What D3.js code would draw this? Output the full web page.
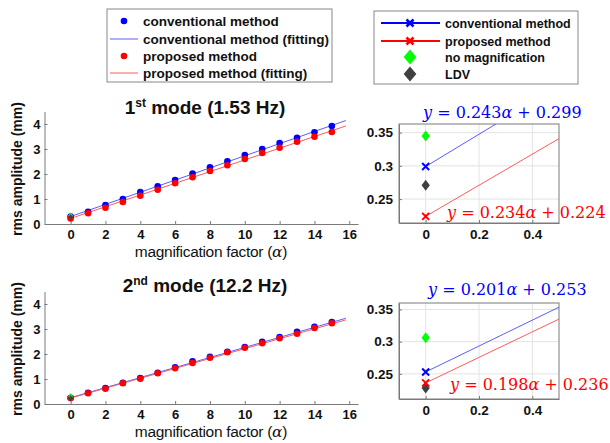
<!DOCTYPE html>
<html>
<head>
<meta charset="utf-8">
<script src="https://cdn.jsdelivr.net/npm/d3@7"></script>
<style>
  html, body { margin: 0; padding: 0; background: #fff; }
  svg { display: block; }
  .tick text { font-family: "Liberation Sans", Arial, sans-serif; font-weight: bold; fill: #111; }
</style>
</head>
<body>
<script>
// magnification factor α
const alpha = [0, 1, 2, 3, 4, 5, 6, 7, 8, 9, 10, 11, 12, 13, 14, 15];

// 1st mode (1.53 Hz): rms amplitude (mm)
const conv1 = [0.299, 0.49, 0.76, 1.00, 1.28, 1.51, 1.76, 2.02, 2.27, 2.51, 2.76, 3.00, 3.24, 3.45, 3.67, 3.92];
const prop1 = [0.224, 0.43, 0.65, 0.88, 1.13, 1.37, 1.63, 1.87, 2.12, 2.35, 2.60, 2.84, 3.05, 3.29, 3.49, 3.68];
// 2nd mode (12.2 Hz): rms amplitude (mm)
const conv2 = [0.253, 0.45, 0.64, 0.85, 1.04, 1.25, 1.47, 1.71, 1.89, 2.09, 2.28, 2.49, 2.68, 2.89, 3.09, 3.28];
const prop2 = [0.236, 0.43, 0.61, 0.83, 1.01, 1.23, 1.43, 1.64, 1.85, 2.07, 2.25, 2.43, 2.63, 2.81, 3.04, 3.23];

// linear fits [slope, intercept]
const fitConv1 = [0.243, 0.299];
const fitProp1 = [0.234, 0.224];
const fitConv2 = [0.201, 0.253];
const fitProp2 = [0.198, 0.236];
const fitRange = [0, 15.8];

// reference amplitudes at α = 0 (mode 1, mode 2)
const noMagnification = [0.345, 0.306];
const ldv = [0.271, 0.228];

// ticks
const mainXTicks = [0, 2, 4, 6, 8, 10, 12, 14, 16];
const mainYTicks = [0, 1, 2, 3, 4];
const zoomXTicks = [0, 0.2, 0.4];
const zoomYTicks = [0.25, 0.3, 0.35];

const BLUE = "#0000ff", RED = "#ff0000", FIT_BLUE = "#5c5cff", FIT_RED = "#ff5c5c";
const GREEN = "#00ff00", GRAY = "#404040", AXIS = "#7a7a7a";
const SANS = "'Liberation Sans', Arial, sans-serif";
const SERIF = "'DejaVu Serif', serif";

const svg = d3.select("body").append("svg").attr("width", 610).attr("height", 443);

// custom marker shapes
const crossShape = { draw(ctx, size) { const r = Math.sqrt(size) / 2; ctx.moveTo(-r, -r); ctx.lineTo(r, r); ctx.moveTo(r, -r); ctx.lineTo(-r, r); } };
const diamondShape = (ratio) => ({ draw(ctx, size) { const h = Math.sqrt(size) / 2, w = h * ratio; ctx.moveTo(0, -h); ctx.lineTo(w, 0); ctx.lineTo(0, h); ctx.lineTo(-w, 0); ctx.closePath(); } });

function styleAxis(g) {
  g.select(".domain").attr("stroke", AXIS).attr("stroke-width", 1);
  g.selectAll(".tick line").attr("stroke", AXIS);
  g.selectAll(".tick text").attr("font-size", 13);
}

// ---------- main panels ----------
function mainPanel(cfg) {
  const x = d3.scaleLinear().domain([-1.5, 16.5]).range([44.5, 358]);
  const y = d3.scaleLinear().domain([0, 4.5]).range([cfg.bottom, cfg.bottom - 112.5]);
  const g = svg.append("g");

  g.append("g").attr("transform", `translate(0,${cfg.bottom})`)
    .call(d3.axisBottom(x).tickValues(mainXTicks).tickFormat(d3.format("d")).tickSizeInner(-3).tickSizeOuter(0).tickPadding(6))
    .call(styleAxis);
  g.append("g").attr("transform", `translate(${x.range()[0]},0)`)
    .call(d3.axisLeft(y).tickValues(mainYTicks).tickFormat(d3.format("d")).tickSizeInner(-3).tickSizeOuter(0).tickPadding(4))
    .call(styleAxis);

  const line = d3.line().x(d => x(d[0])).y(d => y(d[1]));
  [[cfg.fitC, FIT_BLUE], [cfg.fitP, FIT_RED]].forEach(([f, c]) => {
    g.append("path").datum(fitRange.map(a => [a, f[0] * a + f[1]]))
      .attr("d", line).attr("fill", "none").attr("stroke", c).attr("stroke-width", 1);
  });
  [[cfg.conv, BLUE], [cfg.prop, RED]].forEach(([vals, c]) => {
    g.selectAll(null).data(alpha).join("circle")
      .attr("cx", d => x(d)).attr("cy", (d, i) => y(vals[i])).attr("r", 3.3).attr("fill", c);
  });
  [[cfg.noMag, GREEN], [cfg.ldv, GRAY]].forEach(([v, c]) => {
    g.append("path").attr("d", d3.symbol(diamondShape(0.8), 36)())
      .attr("transform", `translate(${x(0)},${y(v)})`).attr("fill", c);
  });

  // title
  const t = g.append("text").attr("x", 205).attr("y", cfg.titleY).attr("text-anchor", "middle")
    .attr("font-family", SANS).attr("font-weight", "bold").attr("font-size", 19).attr("fill", "#111");
  t.append("tspan").text(cfg.title[0]);
  t.append("tspan").text(cfg.title[1]).attr("font-size", 12).attr("dy", -7);
  t.append("tspan").text(cfg.title[2]).attr("dy", 7);

  // axis labels
  g.append("text").attr("transform", `translate(22,${cfg.bottom - 55}) rotate(-90)`).attr("text-anchor", "middle")
    .attr("font-family", SANS).attr("font-weight", "bold").attr("font-size", 14).attr("fill", "#111")
    .text("rms amplitude (mm)");
  const xl = g.append("text").attr("x", 211).attr("y", cfg.bottom + 33).attr("text-anchor", "middle")
    .attr("font-family", SANS).attr("font-size", 15.5).attr("fill", "#111").attr("letter-spacing", -0.3);
  xl.append("tspan").text("magnification factor (");
  xl.append("tspan").text("α").attr("font-family", SERIF).attr("font-style", "italic");
  xl.append("tspan").text(")");
}

// ---------- zoomed panels near α = 0 ----------
function zoomPanel(cfg, idx) {
  const x = d3.scaleLinear().domain([-0.1, 0.5]).range([399, 559]);
  const y = d3.scaleLinear().domain(cfg.yDomain).range([cfg.bottom, cfg.top]);
  const g = svg.append("g");
  const clipId = "clip" + idx;
  g.append("clipPath").attr("id", clipId).append("rect")
    .attr("x", 399).attr("y", cfg.top).attr("width", 160).attr("height", cfg.bottom - cfg.top);

  // grid
  g.selectAll(null).data(zoomXTicks).join("line")
    .attr("x1", d => x(d)).attr("x2", d => x(d)).attr("y1", cfg.top).attr("y2", cfg.bottom)
    .attr("stroke", "#e3e3e3");
  g.selectAll(null).data(zoomYTicks).join("line")
    .attr("x1", 399).attr("x2", 559).attr("y1", d => y(d)).attr("y2", d => y(d))
    .attr("stroke", "#e3e3e3");

  g.append("g").attr("transform", `translate(0,${cfg.bottom})`)
    .call(d3.axisBottom(x).tickValues(zoomXTicks).tickFormat(d => d === 0 ? "0" : d3.format(".1f")(d)).tickSizeInner(-3).tickSizeOuter(0).tickPadding(6))
    .call(styleAxis);
  g.append("g").attr("transform", "translate(399,0)")
    .call(d3.axisLeft(y).tickValues(zoomYTicks).tickFormat(d => String(d)).tickSizeInner(-3).tickSizeOuter(0).tickPadding(6))
    .call(styleAxis);
  g.selectAll(".tick text").attr("font-size", 13.5);
  g.append("rect").attr("x", 399).attr("y", cfg.top).attr("width", 160).attr("height", cfg.bottom - cfg.top)
    .attr("fill", "none").attr("stroke", AXIS).attr("stroke-width", 1);

  const plot = g.append("g").attr("clip-path", `url(#${clipId})`);
  const line = d3.line().x(d => x(d[0])).y(d => y(d[1]));
  [[cfg.fitC, FIT_BLUE], [cfg.fitP, FIT_RED]].forEach(([f, c]) => {
    plot.append("path").datum(fitRange.map(a => [a, f[0] * a + f[1]]))
      .attr("d", line).attr("fill", "none").attr("stroke", c).attr("stroke-width", 1);
  });
  [[cfg.noMag, GREEN], [cfg.ldv, GRAY]].forEach(([v, c]) => {
    plot.append("path").attr("d", d3.symbol(diamondShape(0.75), 121)())
      .attr("transform", `translate(${x(0)},${y(v)})`).attr("fill", c);
  });
  [[cfg.conv[0], BLUE], [cfg.prop[0], RED]].forEach(([v, c]) => {
    plot.append("path").attr("d", d3.symbol(crossShape, 49)())
      .attr("transform", `translate(${x(0)},${y(v)})`).attr("fill", "none").attr("stroke", c).attr("stroke-width", 2);
  });

  // fit equations
  const eq = (f, c, px, py) => {
    const t = svg.append("text").attr("x", px).attr("y", py).attr("font-family", SERIF)
      .attr("font-size", 16).attr("fill", c);
    t.append("tspan").text("y").attr("font-style", "italic");
    t.append("tspan").text(` = ${f[0].toFixed(3)}`);
    t.append("tspan").text("α").attr("font-style", "italic");
    t.append("tspan").text(` + ${f[1].toFixed(3)}`);
  };
  eq(cfg.fitC, BLUE, cfg.eqC[0], cfg.eqC[1]);
  eq(cfg.fitP, RED, cfg.eqP[0], cfg.eqP[1]);
}

mainPanel({ bottom: 224, titleY: 114, title: ["1", "st", " mode (1.53 Hz)"], conv: conv1, prop: prop1, fitC: fitConv1, fitP: fitProp1, noMag: noMagnification[0], ldv: ldv[0] });
mainPanel({ bottom: 404, titleY: 292, title: ["2", "nd", " mode (12.2 Hz)"], conv: conv2, prop: prop2, fitC: fitConv2, fitP: fitProp2, noMag: noMagnification[1], ldv: ldv[1] });

zoomPanel({ top: 124, bottom: 223, yDomain: [0.214, 0.363], conv: conv1, prop: prop1, fitC: fitConv1, fitP: fitProp1, noMag: noMagnification[0], ldv: ldv[0], eqC: [423, 118], eqP: [447, 218] }, 1);
zoomPanel({ top: 303, bottom: 399, yDomain: [0.211, 0.360], conv: conv2, prop: prop2, fitC: fitConv2, fitP: fitProp2, noMag: noMagnification[1], ldv: ldv[1], eqC: [428, 295], eqP: [450, 390] }, 2);

// ---------- legends ----------
const leg1 = svg.append("g");
leg1.append("rect").attr("x", 107).attr("y", 9).attr("width", 225).attr("height", 73)
  .attr("fill", "#fff").attr("stroke", "#888").attr("stroke-width", 1);
const leg1Items = [
  { label: "conventional method", type: "dot", color: BLUE },
  { label: "conventional method (fitting)", type: "line", color: FIT_BLUE },
  { label: "proposed method", type: "dot", color: RED },
  { label: "proposed method (fitting)", type: "line", color: FIT_RED }
];
const leg1Y = [21, 39, 56, 73];
leg1Items.forEach((it, i) => {
  const yy = leg1Y[i];
  if (it.type === "dot") leg1.append("circle").attr("cx", 124).attr("cy", yy).attr("r", 3.3).attr("fill", it.color);
  else leg1.append("line").attr("x1", 110).attr("x2", 138).attr("y1", yy).attr("y2", yy).attr("stroke", it.color).attr("stroke-width", 1);
  leg1.append("text").attr("x", 143).attr("y", yy + 5).attr("font-family", SANS).attr("font-weight", "bold")
    .attr("font-size", 13.5).attr("fill", "#111").text(it.label);
});

const leg2 = svg.append("g");
leg2.append("rect").attr("x", 374).attr("y", 11).attr("width", 204).attr("height", 73)
  .attr("fill", "#fff").attr("stroke", "#888").attr("stroke-width", 1);
const leg2Items = [
  { label: "conventional method", type: "cross", color: BLUE },
  { label: "proposed method", type: "cross", color: RED },
  { label: "no magnification", type: "diamond", color: GREEN },
  { label: "LDV", type: "diamond", color: GRAY }
];
const leg2Y = [23, 41, 57, 74];
leg2Items.forEach((it, i) => {
  const yy = leg2Y[i];
  if (it.type === "cross") {
    leg2.append("line").attr("x1", 381).attr("x2", 440).attr("y1", yy).attr("y2", yy).attr("stroke", it.color).attr("stroke-width", 2);
    leg2.append("path").attr("d", d3.symbol(crossShape, 49)()).attr("transform", `translate(410,${yy})`)
      .attr("fill", "none").attr("stroke", it.color).attr("stroke-width", 2.5);
  } else {
    leg2.append("path").attr("d", d3.symbol(diamondShape(0.85), 225)()).attr("transform", `translate(410,${yy})`)
      .attr("fill", it.color);
  }
  leg2.append("text").attr("x", 445).attr("y", yy + 4.5).attr("font-family", SANS).attr("font-weight", "bold")
    .attr("font-size", 12.5).attr("fill", "#111").text(it.label);
});
</script>
</body>
</html>
